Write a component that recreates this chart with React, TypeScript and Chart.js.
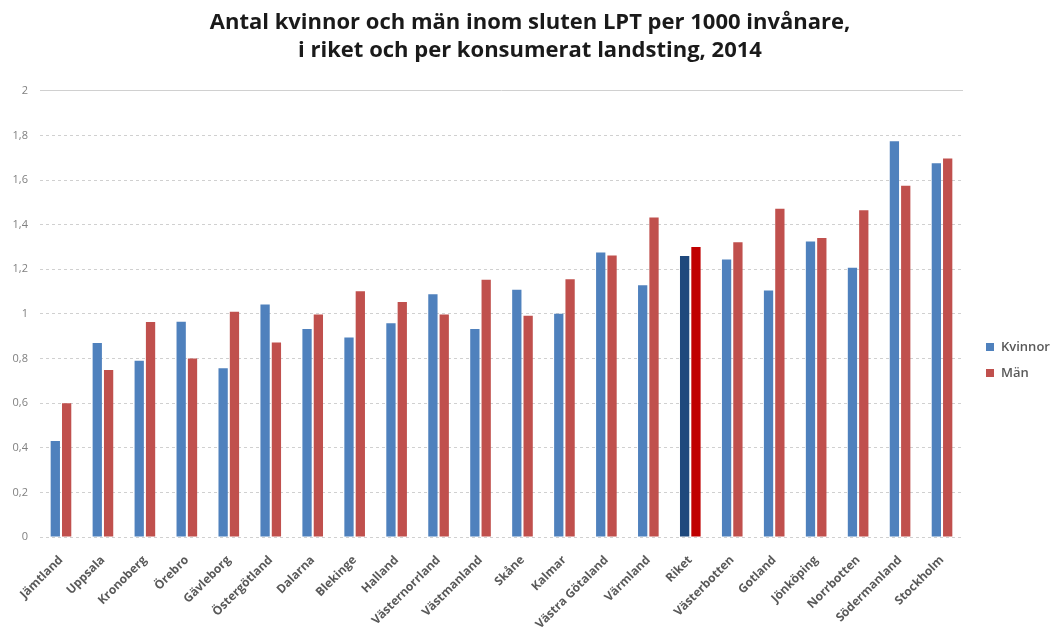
import React, { useEffect, useRef } from "react";
import { Chart, registerables } from "chart.js";

Chart.register(...registerables);

const categories = [
  "Jämtland", "Uppsala", "Kronoberg", "Örebro", "Gävleborg", "Östergötland",
  "Dalarna", "Blekinge", "Halland", "Västernorrland", "Västmanland", "Skåne",
  "Kalmar", "Västra Götaland", "Värmland", "Riket", "Västerbotten", "Gotland",
  "Jönköping", "Norrbotten", "Södermanland", "Stockholm",
];

const kvinnor = [
  0.43, 0.87, 0.79, 0.965, 0.757, 1.042, 0.933, 0.894, 0.958, 1.088, 0.933,
  1.109, 1.001, 1.275, 1.129, 1.26, 1.244, 1.105, 1.325, 1.207, 1.774, 1.676,
];

const man = [
  0.6, 0.749, 0.964, 0.8, 1.01, 0.872, 0.997, 1.102, 1.053, 0.997, 1.153,
  0.992, 1.156, 1.262, 1.432, 1.3, 1.321, 1.472, 1.34, 1.465, 1.575, 1.697,
];

const seriesLabels = ["Kvinnor", "Män"];
const titleLines = [
  "Antal kvinnor och män inom sluten LPT per 1000 invånare,",
  "i riket och per konsumerat landsting, 2014",
];
const highlight = "Riket";

const BLUE = "#4F81BD";
const RED = "#C0504D";
const BLUE_DARK = "#1F497D";
const RED_DARK = "#C00000";
const FONT = "'Open Sans', sans-serif";

const legendPlugin = {
  id: "sideLegend",
  afterDraw(chart: any) {
    const ctx = chart.ctx;
    const area = chart.chartArea;
    const x = area.right + 23;
    const yStart = 347;
    ctx.save();
    ctx.font = "600 13px " + FONT;
    ctx.textBaseline = "middle";
    ctx.textAlign = "left";
    chart.data.datasets.forEach((ds: any, i: number) => {
      const y = yStart + i * 26;
      ctx.fillStyle = ds.legendColor;
      ctx.fillRect(x, y - 4, 8, 8);
      ctx.fillStyle = "#595959";
      ctx.fillText(ds.label, x + 15, y);
    });
    ctx.restore();
  },
};

export default function App() {
  const ref = useRef<HTMLCanvasElement | null>(null);

  useEffect(() => {
    if (!ref.current) return;
    const chart = new Chart(ref.current, {
      type: "bar",
      data: {
        labels: categories,
        datasets: [
          {
            label: seriesLabels[0],
            data: kvinnor,
            backgroundColor: categories.map((c) => (c === highlight ? BLUE_DARK : BLUE)),
            legendColor: BLUE,
            categoryPercentage: 0.54,
            barPercentage: 0.82,
          } as any,
          {
            label: seriesLabels[1],
            data: man,
            backgroundColor: categories.map((c) => (c === highlight ? RED_DARK : RED)),
            legendColor: RED,
            categoryPercentage: 0.54,
            barPercentage: 0.82,
          } as any,
        ],
      },
      options: {
        animation: false,
        responsive: true,
        maintainAspectRatio: false,
        layout: { padding: 0 },
        plugins: {
          legend: { display: false },
          tooltip: { enabled: false },
          title: {
            display: true,
            text: titleLines,
            color: "#1a1a1a",
            font: { family: FONT, size: 22, weight: "bold", lineHeight: 1.27 },
            padding: { top: 9, bottom: 26 },
          },
        },
        scales: {
          x: {
            grid: { display: false },
            border: { display: false },
            ticks: {
              autoSkip: false,
              maxRotation: 45,
              minRotation: 45,
              color: "#595959",
              font: { family: FONT, size: 12, weight: "bold" },
              padding: 8,
            },
            afterFit: (scale: any) => {
              scale.height = 90;
            },
          },
          y: {
            min: 0,
            max: 2,
            ticks: {
              stepSize: 0.2,
              color: "#808080",
              font: { family: FONT, size: 11 },
              padding: 12,
              callback: (v: any) => String(Math.round(Number(v) * 10) / 10).replace(".", ","),
            },
            grid: {
              color: "#d0d0d0",
              lineWidth: 1,
              drawTicks: false,
            },
            border: {
              display: false,
              dash: (ctx: any) => (ctx.tick && ctx.tick.value >= 2 ? [] : [3, 3]),
            },
            afterFit: (scale: any) => {
              scale.width = 40;
            },
          },
          legendSpace: {
            type: "linear",
            position: "right",
            display: true,
            grid: { display: false },
            border: { display: false },
            ticks: { display: false },
            afterFit: (scale: any) => {
              scale.width = 97;
            },
          },
        },
      },
      plugins: [legendPlugin],
    });
    return () => chart.destroy();
  }, []);

  return (
    <div style={{ position: "fixed", left: 0, top: 0, width: 1060, height: 627, background: "#fff" }}>
      <canvas ref={ref} />
    </div>
  );
}
